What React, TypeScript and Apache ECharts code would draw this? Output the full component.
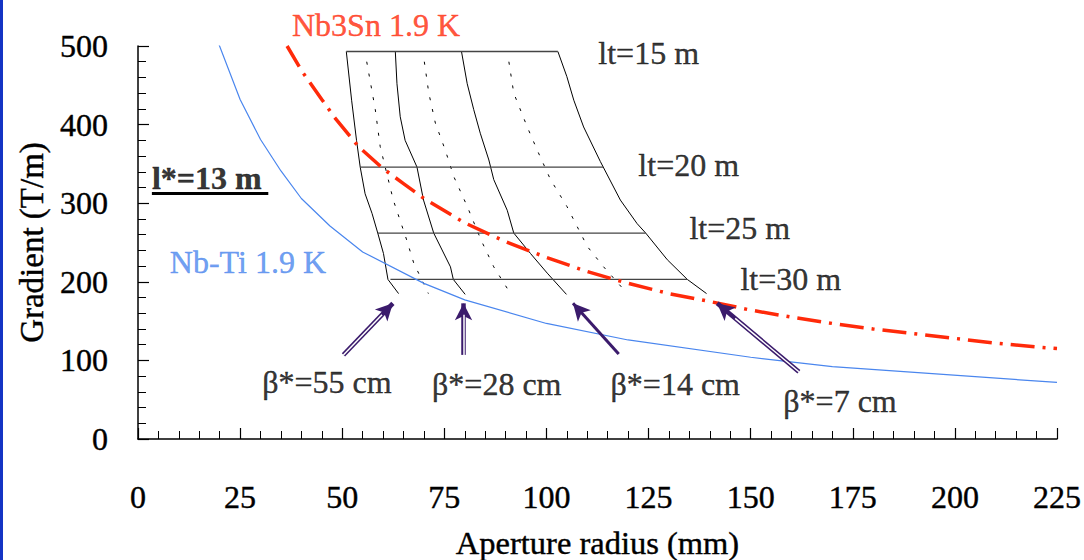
import React, { useEffect, useRef } from "react";
import * as echarts from "echarts";

// ---- data (aperture radius mm, gradient T/m) ----
const nbTi: number[][] = [
  [19.6, 505], [25, 432], [30, 381], [35, 341], [40, 306], [47, 271], [55, 238],
  [70, 198], [80, 177], [100, 147], [120, 126], [150, 104], [170, 92], [225, 72],
];
const nb3Sn: number[][] = [
  [36.5, 500], [40, 469], [45, 432], [48, 410], [54, 372], [60, 344], [65, 325],
  [70, 306], [80, 275], [90, 251], [100, 231], [110, 213], [120, 198], [130, 185],
  [140, 175], [150, 164], [160, 155], [170, 147], [180, 140], [190, 134],
  [200, 128], [210, 122], [220, 117], [225, 115],
];
const beta55: number[][] = [
  [51, 493], [52.3, 431], [53.5, 380], [54.4, 346], [55.6, 312], [57.3, 287],
  [58.7, 262], [60.1, 236], [61.2, 203], [63.8, 185],
];
const beta28: number[][] = [
  [63, 493], [63.4, 452], [64.2, 410], [65.4, 380], [68.3, 346], [69.9, 304],
  [72.4, 262], [76.5, 219], [77.2, 203], [80.1, 184],
];
const beta14: number[][] = [
  [79.2, 493], [80.6, 452], [82.2, 419], [83.8, 389], [85.9, 355], [87.1, 330],
  [90.4, 291], [92, 262], [96.1, 236], [100.2, 211], [104.9, 184],
];
const beta7: number[][] = [
  [102.8, 493], [105, 461], [106.7, 431], [109.1, 397], [113.2, 353], [118.1, 304],
  [122.2, 274], [124.3, 262], [129.6, 228], [134.5, 203], [139.2, 185],
];
const dotted1: number[][] = [
  [56, 480], [58.1, 419], [59.3, 372], [60.9, 338], [62.5, 304], [65.8, 253],
  [67.5, 224], [71.1, 185],
];
const dotted2: number[][] = [
  [70.1, 480], [71.2, 440], [72.8, 402], [75.2, 368], [77.3, 334], [80.6, 296],
  [84, 253], [87.1, 219], [91.2, 185],
];
const dotted3: number[][] = [
  [90.8, 480], [92, 440], [95.3, 397], [97.7, 368], [101, 330], [105, 296],
  [110, 245], [114, 219], [119.8, 185],
];
// lt lines: [gradient, r start, r end]
const ltLines: number[][] = [
  [493, 51, 102.8],
  [346, 54.4, 113.9],
  [262, 58.7, 124.3],
  [203, 61.8, 134.4],
];
// arrows: [r from, G from, r to, G to, hollow shaft 1/0]
const arrows: number[][] = [
  [50.3, 107, 62.4, 172.6, 1],
  [79.7, 107, 79.7, 172.6, 1],
  [117.7, 108, 106.5, 172.6, 0],
  [161.8, 85.6, 141.8, 172.6, 1],
];
// text labels: [text, r, G]
const labelTexts = ["Nb3Sn 1.9 K", "lt=15 m", "lt=20 m", "lt=25 m", "lt=30 m", "Nb-Ti 1.9 K",
  "β*=55 cm", "β*=28 cm", "β*=14 cm", "β*=7 cm"];
const labelPos: number[][] = [
  [37.7, 527], [112.7, 491], [122.5, 348.6], [135, 268.4], [147.5, 203.6], [7.8, 225],
  [30.4, 72.5], [72, 70], [115.7, 70], [158, 48],
];
const lStarText = "l*=13 m";
const lStarPos = [3.4, 332];
const lStarUnderline = [3.4, 31.9, 313];

const X_MIN = 0, X_MAX = 225, X_STEP = 25;
const Y_MIN = 0, Y_MAX = 500, Y_STEP = 100;

const FONT = "Liberation Serif";
const RED = "#ff2a0a";
const BLUE = "#4a86ee";
const PURPLE = "#3b1b6c";

export default function App() {
  const ref = useRef<HTMLDivElement>(null);
  useEffect(() => {
    if (!ref.current) return;
    document.body.style.margin = "0";
    document.body.style.overflow = "hidden";
    document.documentElement.style.overflow = "hidden";
    const chart = echarts.init(ref.current, undefined, { renderer: "svg" });

    const lineSeries = (data: number[][], color: string, width: number, type: any, z = 2) => ({
      type: "line",
      data,
      showSymbol: false,
      symbol: "none",
      silent: true,
      z,
      lineStyle: { color, width, type },
    });

    const colorOf = (t: string) =>
      t.startsWith("Nb3Sn") ? RED : t.startsWith("Nb-Ti") ? BLUE : "#000";
    const ink = (color: string) => ({ color, textBorderColor: color, textBorderWidth: 0.4 });

    const arrowLines: any[] = [];
    arrows.forEach((a) => {
      const [x1, y1, x2, y2, hollow] = a;
      arrowLines.push([
        { coord: [x1, y1], lineStyle: { color: PURPLE, width: hollow ? 4.5 : 3, type: "solid" }, symbol: "none" },
        { coord: [x2, y2], symbol: "arrow" },
      ]);
    });
    const hollowLines: any[] = [];
    arrows.forEach((a) => {
      const [x1, y1, x2, y2, hollow] = a;
      if (!hollow) return;
      const f = 0.78;
      hollowLines.push([
        { coord: [x1, y1] },
        { coord: [x1 + (x2 - x1) * f, y1 + (y2 - y1) * f] },
      ]);
    });

    const option: any = {
      animation: false,
      backgroundColor: "#fff",
      textStyle: { fontFamily: FONT },
      grid: { left: 138, right: 27, top: 46, bottom: 121, containLabel: false, outerBoundsMode: "none" },
      xAxis: {
        type: "value",
        min: X_MIN,
        max: X_MAX,
        interval: X_STEP,
        name: "Aperture radius (mm)",
        nameLocation: "middle",
        nameGap: 87,
        nameTextStyle: { fontFamily: FONT, fontSize: 32.5, ...ink("#000") },
        axisLine: { show: true, lineStyle: { color: "#000", width: 1.5 } },
        axisTick: { show: true, inside: true, length: 11, lineStyle: { color: "#000", width: 1.2 } },
        minorTick: { show: true, splitNumber: 5, length: 8, lineStyle: { color: "#000", width: 1 } },
        axisLabel: { fontFamily: FONT, fontSize: 32, margin: 42, ...ink("#000") },
        splitLine: { show: false },
      },
      yAxis: {
        type: "value",
        min: Y_MIN,
        max: Y_MAX,
        interval: Y_STEP,
        name: "Gradient (T/m)",
        nameLocation: "middle",
        nameGap: 90,
        nameTextStyle: { fontFamily: FONT, fontSize: 33, ...ink("#000") },
        axisLine: { show: true, lineStyle: { color: "#000", width: 1.5 } },
        axisTick: { show: true, inside: true, length: 11, lineStyle: { color: "#000", width: 1.2 } },
        minorTick: { show: true, splitNumber: 5, length: 8, lineStyle: { color: "#000", width: 1 } },
        axisLabel: { fontFamily: FONT, fontSize: 32, margin: 30, ...ink("#000") },
        splitLine: { show: false },
      },
      graphic: [
        { type: "rect", left: 0, top: 0, shape: { width: 3, height: 560 }, style: { fill: "#1434c4" }, z: 100 },
      ],
      series: [
        lineSeries(nbTi, BLUE, 1.2, "solid", 3),
        lineSeries(beta55, "#000", 1, "solid"),
        lineSeries(beta28, "#000", 1, "solid"),
        lineSeries(beta14, "#000", 1, "solid"),
        lineSeries(beta7, "#000", 1, "solid"),
        lineSeries(dotted1, "#000", 1, [3, 9]),
        lineSeries(dotted2, "#000", 1, [3, 9]),
        lineSeries(dotted3, "#000", 1, [3, 9]),
        ...ltLines.map((l) => lineSeries([[l[1], l[0]], [l[2], l[0]]], "#444", 1.3, "solid")),
        lineSeries(nb3Sn, RED, 3.5, [24, 8, 3, 8], 4),
        {
          type: "line",
          data: [],
          silent: true,
          z: 6,
          markLine: {
            silent: true,
            animation: false,
            symbol: ["none", "arrow"],
            symbolSize: [13, 17],
            label: { show: false },
            lineStyle: { color: PURPLE, width: 4.5, type: "solid" },
            data: arrowLines,
          },
        },
        {
          type: "line",
          data: [],
          silent: true,
          z: 7,
          markLine: {
            silent: true,
            animation: false,
            symbol: ["none", "none"],
            label: { show: false },
            lineStyle: { color: "#fff", width: 1.5, type: "solid" },
            data: hollowLines,
          },
        },
        {
          type: "line",
          data: [],
          silent: true,
          z: 7,
          markLine: {
            silent: true,
            animation: false,
            symbol: ["none", "none"],
            label: { show: false },
            lineStyle: { color: "#000", width: 3, type: "solid" },
            data: [[{ coord: [lStarUnderline[0], lStarUnderline[2]] }, { coord: [lStarUnderline[1], lStarUnderline[2]] }]],
          },
        },
        {
          type: "scatter",
          silent: true,
          clip: false,
          symbolSize: 0,
          z: 10,
          data: [
            ...labelTexts.map((t, i) => ({
              value: labelPos[i],
              label: {
                show: true,
                position: "right",
                distance: 0,
                formatter: t,
                fontFamily: FONT,
                fontSize: 32,
                ...ink(colorOf(t)),
              },
            })),
            {
              value: lStarPos,
              label: {
                show: true,
                position: "right",
                distance: 0,
                formatter: lStarText,
                fontFamily: FONT,
                fontSize: 32,
                fontWeight: "bold",
                ...ink("#000"),
              },
            },
          ],
        },
      ],
    };
    chart.setOption(option);
    return () => chart.dispose();
  }, []);
  return (
    <div
      ref={ref}
      style={{ position: "absolute", left: 0, top: 0, width: 1084, height: 560, overflow: "hidden", background: "#fff" }}
    />
  );
}
